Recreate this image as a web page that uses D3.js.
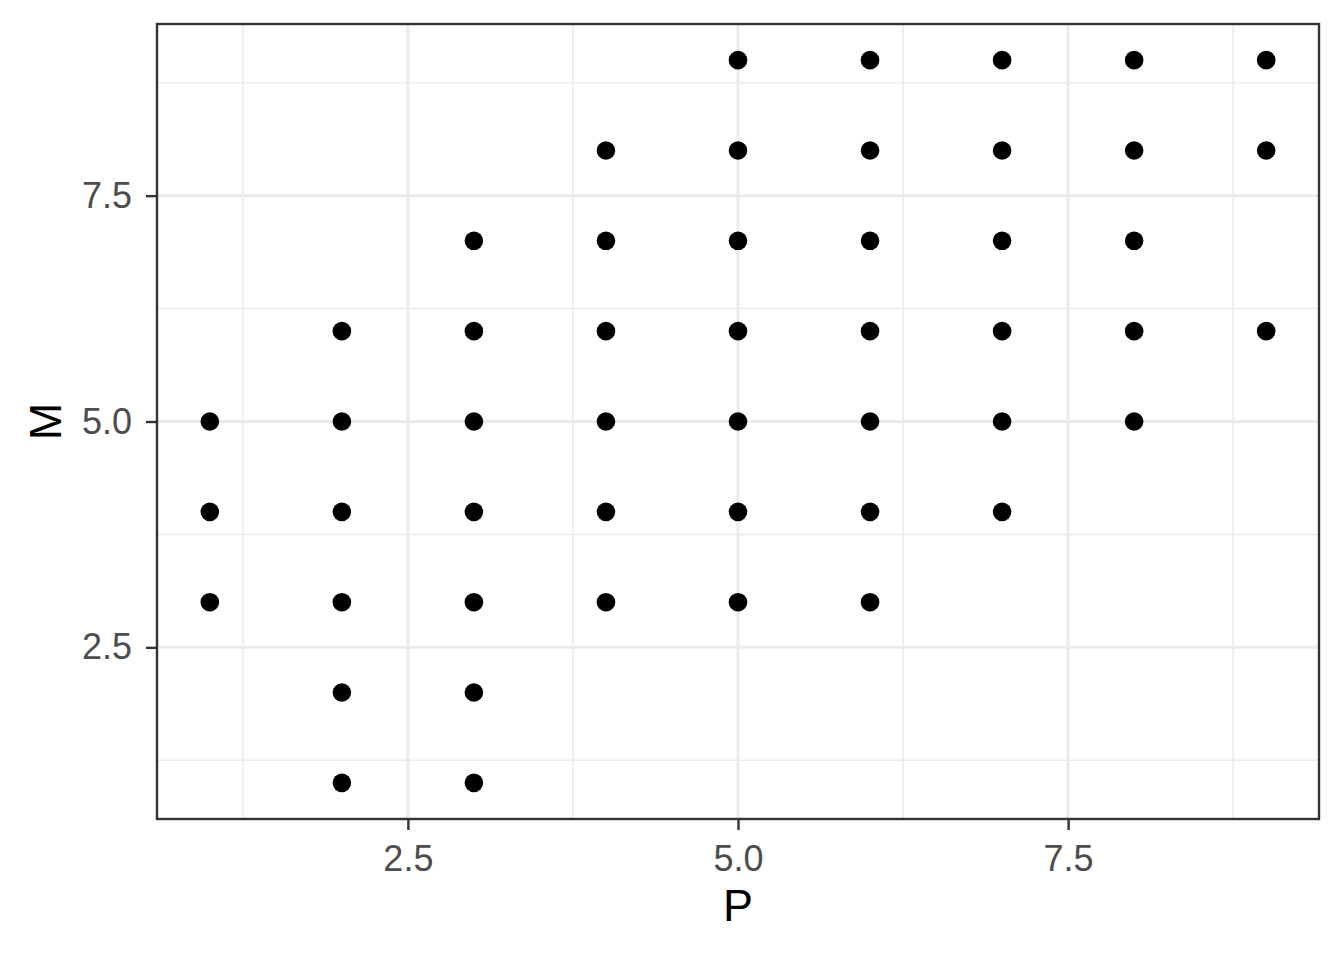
<!DOCTYPE html>
<html>
<head>
<meta charset="utf-8">
<script src="https://cdn.jsdelivr.net/npm/d3@7"></script>
<style>
  body { margin: 0; background: #fff; }
  text { font-family: "Liberation Sans", Arial, sans-serif; }
</style>
</head>
<body>
<svg id="chart"></svg>
<script>
// P value for each column of points, and the M values found in that column
var pCols = [1, 2, 3, 4, 5, 6, 7, 8, 9];
var mByP = [
    [3, 4, 5],
    [1, 2, 3, 4, 5, 6],
    [1, 2, 3, 4, 5, 6, 7],
    [3, 4, 5, 6, 7, 8],
    [3, 4, 5, 6, 7, 8, 9],
    [3, 4, 5, 6, 7, 8, 9],
    [4, 5, 6, 7, 8, 9],
    [5, 6, 7, 8, 9],
    [6, 8, 9]
];
var xTicks = [2.5, 5.0, 7.5];
var yTicks = [2.5, 5.0, 7.5];
var xMinor = [1.25, 3.75, 6.25, 8.75];
var yMinor = [1.25, 3.75, 6.25, 8.75];

var W = 1344, H = 960;
var margin = {top: 24, right: 25, bottom: 141, left: 157},
    width = W - margin.left - margin.right,
    height = H - margin.top - margin.bottom;

var svg = d3.select("#chart")
    .attr("width", W)
    .attr("height", H);

var g = svg.append("g")
    .attr("transform", "translate(" + margin.left + "," + margin.top + ")");

var data = [];
pCols.forEach(function (p, i) {
    mByP[i].forEach(function (m) {
        data.push({P: p, M: m});
    });
});

// ggplot style 5% expansion of the data range
var x = d3.scaleLinear().domain([0.6, 9.4]).range([0, width]);
var y = d3.scaleLinear().domain([0.6, 9.4]).range([height, 0]);

// minor grid
g.selectAll(".xminor").data(xMinor).enter().append("line")
    .attr("x1", d => x(d)).attr("x2", d => x(d))
    .attr("y1", 0).attr("y2", height)
    .attr("stroke", "#ebebeb").attr("stroke-width", 1.6);
g.selectAll(".yminor").data(yMinor).enter().append("line")
    .attr("y1", d => y(d)).attr("y2", d => y(d))
    .attr("x1", 0).attr("x2", width)
    .attr("stroke", "#ebebeb").attr("stroke-width", 1.6);

// major grid
g.selectAll(".xmajor").data(xTicks).enter().append("line")
    .attr("x1", d => x(d)).attr("x2", d => x(d))
    .attr("y1", 0).attr("y2", height)
    .attr("stroke", "#ebebeb").attr("stroke-width", 3);
g.selectAll(".ymajor").data(yTicks).enter().append("line")
    .attr("y1", d => y(d)).attr("y2", d => y(d))
    .attr("x1", 0).attr("x2", width)
    .attr("stroke", "#ebebeb").attr("stroke-width", 3);

// points
g.selectAll("circle").data(data).enter().append("circle")
    .attr("cx", d => x(d.P))
    .attr("cy", d => y(d.M))
    .attr("r", 9.3)
    .attr("fill", "#000");

// panel border
g.append("rect")
    .attr("x", 0).attr("y", 0)
    .attr("width", width).attr("height", height)
    .attr("fill", "none")
    .attr("stroke", "#333333")
    .attr("stroke-width", 2.4);

// axes
var xAxis = g.append("g")
    .attr("transform", "translate(0," + height + ")")
    .call(d3.axisBottom(x).tickValues(xTicks).tickFormat(d3.format(".1f"))
        .tickSize(11).tickPadding(15));
var yAxis = g.append("g")
    .call(d3.axisLeft(y).tickValues(yTicks).tickFormat(d3.format(".1f"))
        .tickSize(11).tickPadding(14));

[xAxis, yAxis].forEach(function (a) {
    a.select(".domain").remove();
    a.selectAll(".tick line").attr("stroke", "#333333").attr("stroke-width", 2.4);
    a.selectAll(".tick text")
        .attr("fill", "#4d4d4d")
        .style("font-size", "36px")
        .style("font-family", "'Liberation Sans', Arial, sans-serif");
});

// axis titles
svg.append("text")
    .attr("x", margin.left + width / 2)
    .attr("y", 921)
    .attr("text-anchor", "middle")
    .style("font-size", "45px")
    .attr("fill", "#000")
    .text("P");

svg.append("text")
    .attr("transform", "translate(61," + (margin.top + height / 2) + ") rotate(-90)")
    .attr("text-anchor", "middle")
    .style("font-size", "45px")
    .attr("fill", "#000")
    .text("M");
</script>
</body>
</html>
